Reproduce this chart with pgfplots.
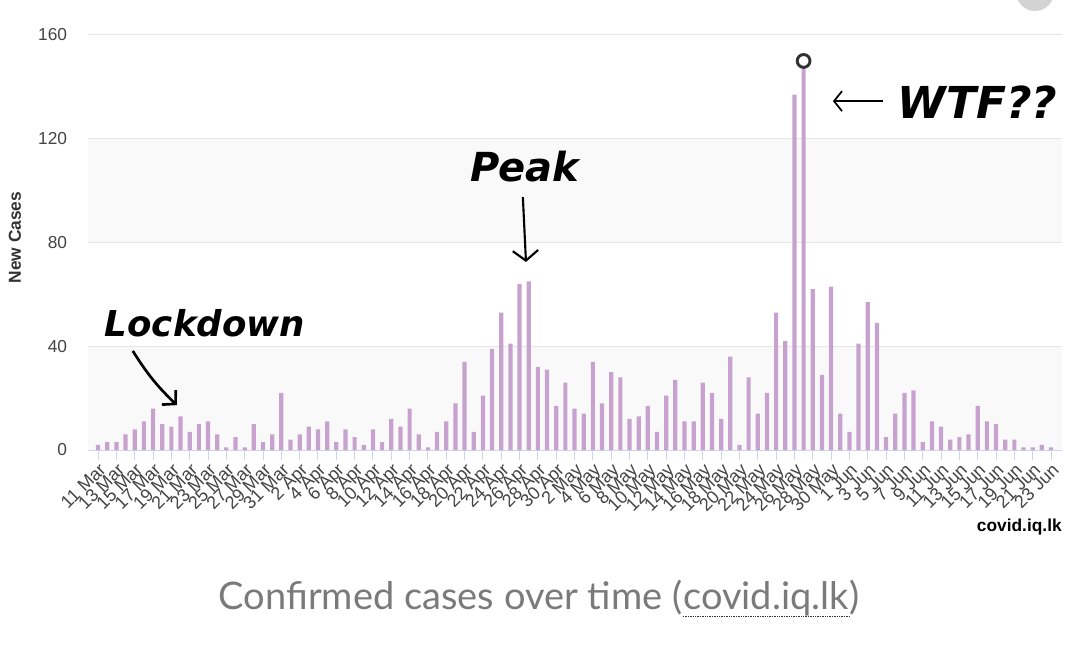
\documentclass[border=0pt]{standalone}
\usepackage{pgfplots}
\pgfplotsset{compat=1.18}
\usepackage{fontspec}
\setmainfont{Liberation Sans}
\newfontfamily\capfont{Lato}
\newfontfamily\handfont{DejaVu Sans}
\usetikzlibrary{arrows.meta}

\definecolor{barcol}{HTML}{C8A2CE}
\definecolor{axiscol}{HTML}{CCD6EB}
\definecolor{gridcol}{HTML}{E6E6E6}
\definecolor{bandcol}{HTML}{F9F9F9}
\definecolor{labcol}{HTML}{444444}
\definecolor{capcol}{HTML}{7A7A7A}
\definecolor{markcol}{HTML}{333333}
\definecolor{topcirc}{HTML}{D3D3D3}

\newcommand{\dotul}[1]{\tikz[baseline=(t.base)]{\node[inner sep=0pt](t){#1};
  \draw[markcol, line width=1.2pt, dash pattern=on 1pt off 0.8pt]
    ([yshift=-5pt]t.base west) -- ([yshift=-5pt]t.base east);}}

\begin{document}
\begin{tikzpicture}
\begin{axis}[
  set layers,
  width=730.5pt, height=311.25pt, scale only axis,
  xmin=-1.1, xmax=105.2, ymin=0, ymax=160,
  clip=false,
  axis x line*=bottom, axis y line*=left,
  x axis line style={draw=axiscol, line width=0.75pt},
  y axis line style={draw=none},
  ytick={0,40,80,120,160},
  ymajorgrids, grid style={gridcol, line width=0.75pt},
  ytick style={draw=none},
  tick align=outside, major tick length=7.5pt,
  xtick style={draw=axiscol, line width=0.75pt},
  xtick={0,2,...,104},
  xticklabels={11 Mar,13 Mar,15 Mar,17 Mar,19 Mar,21 Mar,23 Mar,25 Mar,27 Mar,29 Mar,31 Mar,
    2 Apr,4 Apr,6 Apr,8 Apr,10 Apr,12 Apr,14 Apr,16 Apr,18 Apr,20 Apr,22 Apr,24 Apr,26 Apr,28 Apr,30 Apr,
    2 May,4 May,6 May,8 May,10 May,12 May,14 May,16 May,18 May,20 May,22 May,24 May,26 May,28 May,30 May,
    1 Jun,3 Jun,5 Jun,7 Jun,9 Jun,11 Jun,13 Jun,15 Jun,17 Jun,19 Jun,21 Jun,23 Jun},
  xticklabel style={rotate=45, anchor=north east, inner sep=1pt,
    font=\fontsize{13.5}{15}\selectfont, text=labcol},
  yticklabel style={anchor=east, inner sep=0pt, xshift=-8pt,
    font=\fontsize{13}{15}\selectfont, text=labcol},
  /pgf/number format/assume math mode=true,
]
\begin{pgfonlayer}{axis background}
  \fill[bandcol] (rel axis cs:0,0) rectangle (rel axis cs:1,0.25);
  \fill[bandcol] (rel axis cs:0,0.5) rectangle (rel axis cs:1,0.75);
\end{pgfonlayer}

% daily new cases, 11 Mar (0) to 23 Jun (104)
\addplot[ybar, bar width=0.46, fill=barcol, draw=none] coordinates {
  (0,2) (1,3) (2,3) (3,6) (4,8) (5,11) (6,16) (7,10) (8,9) (9,13)
  (10,7) (11,10) (12,11) (13,6) (14,1) (15,5) (16,1) (17,10) (18,3) (19,6)
  (20,22) (21,4) (22,6) (23,9) (24,8) (25,11) (26,3) (27,8) (28,5) (29,2)
  (30,8) (31,3) (32,12) (33,9) (34,16) (35,6) (36,1) (37,7) (38,11) (39,18)
  (40,34) (41,7) (42,21) (43,39) (44,53) (45,41) (46,64) (47,65) (48,32) (49,31)
  (50,17) (51,26) (52,16) (53,14) (54,34) (55,18) (56,30) (57,28) (58,12) (59,13)
  (60,17) (61,7) (62,21) (63,27) (64,11) (65,11) (66,26) (67,22) (68,12) (69,36)
  (70,2) (71,28) (72,14) (73,22) (74,53) (75,42) (76,137) (77,150) (78,62) (79,29)
  (80,63) (81,14) (82,7) (83,41) (84,57) (85,49) (86,5) (87,14) (88,22) (89,23)
  (90,3) (91,11) (92,9) (93,4) (94,5) (95,6) (96,17) (97,11) (98,10) (99,4)
  (100,4) (101,1) (102,1) (103,2) (104,1)
};
\addplot[only marks, mark=*, mark size=4.8pt,
  mark options={draw=markcol, fill=white, line width=2.2pt}] coordinates {(77,150)};

% y label and source
\node[rotate=90, font=\bfseries\fontsize{13}{15}\selectfont, text=markcol]
  at (rel axis cs:-0.075,0.512) {New Cases};
\node[anchor=east, inner sep=0pt, font=\bfseries\fontsize{13}{15}\selectfont]
  at (rel axis cs:1.0,-0.1855) {covid.iq.lk};

% hand-written notes
\node[font=\handfont\bfseries\itshape\fontsize{26.7}{28}\selectfont] at (axis cs:11.65,48.9) {Lockdown};
\draw[line width=2pt, -{Straight Barb[length=7pt,width=15pt]}] (axis cs:3.79,38.2) to[bend right=7] (axis cs:8.6,17.3);
\node[font=\handfont\bfseries\itshape\fontsize{30}{32}\selectfont] at (axis cs:46.6,109.1) {Peak};
\draw[line width=1.6pt, -{Straight Barb[length=7.5pt,width=19pt]}] (axis cs:46.36,97.5) -- (axis cs:46.7,72.5);
\node[font=\handfont\bfseries\itshape\fontsize{33}{35}\selectfont] at (axis cs:96.0,134.2) {WTF??};
\draw[line width=1.3pt, -{Straight Barb[length=6pt,width=15pt]}] (axis cs:85.66,134.5) -- (axis cs:80.2,134.5);

% caption under the chart
\node[anchor=base, inner sep=0pt, font=\capfont\fontsize{28.5}{30}\selectfont, text=capcol]
  at (rel axis cs:0.4635,-0.3855) {Confirmed cases over time (\dotul{covid.iq.lk})};

\fill[topcirc] (rel axis cs:0.9723,1.1036) circle (14.25pt);

\coordinate (bbsw) at (rel axis cs:-0.09035,-0.4747);
\coordinate (bbne) at (rel axis cs:1.01745,1.08434);
\end{axis}
\pgfresetboundingbox
\path[use as bounding box] (bbsw) rectangle (bbne);
\end{tikzpicture}
\end{document}
